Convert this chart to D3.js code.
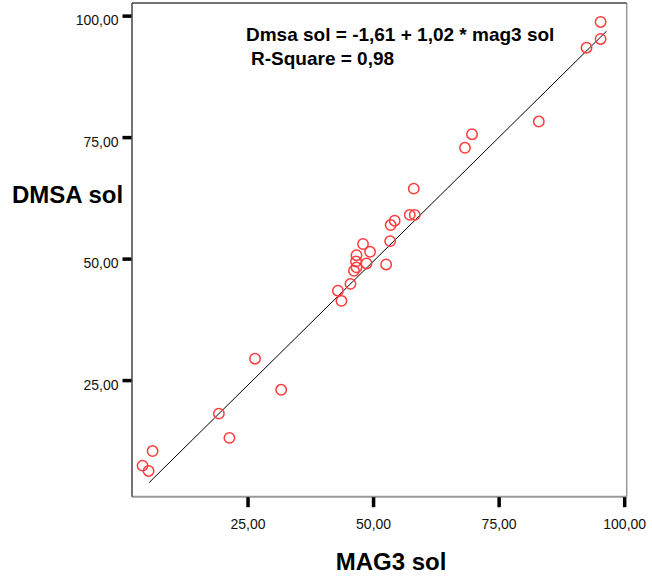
<!DOCTYPE html>
<html>
<head>
<meta charset="utf-8">
<script src="https://cdn.jsdelivr.net/npm/d3@7"></script>
<style>
  body { margin: 0; background: #fff; }
  text { font-family: "Liberation Sans", Arial, Helvetica, sans-serif; }
</style>
</head>
<body>
<div class="plot1"></div>
<script>
// MAG3 sol (x) and DMSA sol (y) per case
var mag3 = [4.1, 5.3, 6.1, 19.3, 21.4, 26.5, 31.7, 43.0, 43.7, 45.5,
            46.2, 46.7, 46.6, 46.7, 48.0, 49.4, 48.7, 52.6, 53.4, 53.5,
            54.3, 57.3, 58.3, 58.1, 68.3, 69.7, 83.0, 92.5, 95.3, 95.3];
var dmsa = [7.4, 6.3, 10.4, 18.1, 13.1, 29.4, 23.0, 43.4, 41.3, 44.8,
            47.5, 48.2, 49.4, 50.7, 53.0, 51.4, 49.0, 48.8, 53.6, 56.9,
            57.8, 59.0, 59.0, 64.4, 72.8, 75.6, 78.2, 93.4, 98.7, 95.2];

var xTicks = [25, 50, 75, 100];
var yTicks = [25, 50, 75, 100];

// fitted line: Dmsa sol = -1,61 + 1,02 * mag3 sol
var intercept = -1.61;
var slope = 1.02;
var fitFrom = 5.4;
var fitTo = 96.5;
var rSquare = 0.98;

var width = 652, height = 583;
var plotLeft = 132, plotRight = 626.7, plotTop = 3, plotBottom = 496.7;

var locale = d3.formatLocale({ decimal: ",", thousands: ".", grouping: [3], currency: ["", ""], minus: "-" });
var fmt = locale.format(".2f");

var svg = d3.select(".plot1").append("svg")
  .attr("width", width)
  .attr("height", height);

var x = d3.scaleLinear().domain([2, 100.5]).range([plotLeft, plotRight]);
var y = d3.scaleLinear().domain([1, 102.6]).range([plotBottom, plotTop]);

// frame
svg.append("line").attr("x1", plotLeft).attr("x2", plotRight).attr("y1", plotBottom).attr("y2", plotBottom)
  .style("stroke", "#999").style("stroke-width", 2);
svg.append("line").attr("x1", plotRight).attr("x2", plotRight).attr("y1", plotTop).attr("y2", plotBottom)
  .style("stroke", "#999").style("stroke-width", 1.5);
svg.append("line").attr("x1", plotLeft).attr("x2", plotRight).attr("y1", plotTop).attr("y2", plotTop)
  .style("stroke", "#444").style("stroke-width", 1.5);
svg.append("line").attr("x1", plotLeft).attr("x2", plotLeft).attr("y1", plotTop).attr("y2", plotBottom)
  .style("stroke", "#444").style("stroke-width", 1.5);

var xAxis = svg.append("g")
  .attr("transform", "translate(0," + (plotBottom + 0.5) + ")")
  .call(d3.axisBottom(x).tickValues(xTicks).tickFormat(fmt).tickSize(10).tickPadding(12));

var yAxis = svg.append("g")
  .attr("transform", "translate(" + (plotLeft - 0.5) + ",0)")
  .call(d3.axisLeft(y).tickValues(yTicks).tickFormat(fmt).tickSize(9).tickPadding(4));

svg.selectAll(".domain").remove();
svg.selectAll(".tick line").style("stroke", "#000").style("stroke-width", 3.5);
svg.selectAll(".tick text")
  .style("font-family", "'Liberation Sans', Arial, sans-serif")
  .style("font-size", "14px")
  .style("fill", "#111");
yAxis.selectAll(".tick text").attr("dy", "0.95em").attr("y", -4);

// regression line
svg.append("line")
  .attr("x1", x(fitFrom)).attr("y1", y(intercept + slope * fitFrom))
  .attr("x2", x(fitTo)).attr("y2", y(intercept + slope * fitTo))
  .style("stroke", "#000")
  .style("stroke-width", 1);

// points
svg.selectAll("circle")
  .data(mag3)
  .enter()
  .append("circle")
  .attr("cx", function(d, i) { return x(d); })
  .attr("cy", function(d, i) { return y(dmsa[i]); })
  .attr("r", 5.2)
  .style("fill", "none")
  .style("stroke", "#ff3b3b")
  .style("stroke-width", 1.5);

// equation
svg.append("text")
  .attr("x", 246)
  .attr("y", 41)
  .style("font-size", "19px")
  .style("font-weight", "bold")
  .text("Dmsa sol = " + fmt(intercept) + " + " + fmt(slope) + " * mag3 sol");

svg.append("text")
  .attr("x", 251)
  .attr("y", 65)
  .style("font-size", "19px")
  .style("font-weight", "bold")
  .text("R-Square = " + fmt(rSquare));

// axis titles
svg.append("text")
  .attr("x", 12)
  .attr("y", 203)
  .style("font-size", "24px")
  .style("font-weight", "bold")
  .text("DMSA sol");

svg.append("text")
  .attr("x", 391)
  .attr("y", 570)
  .style("text-anchor", "middle")
  .style("font-size", "24px")
  .style("font-weight", "bold")
  .text("MAG3 sol");
</script>
</body>
</html>
